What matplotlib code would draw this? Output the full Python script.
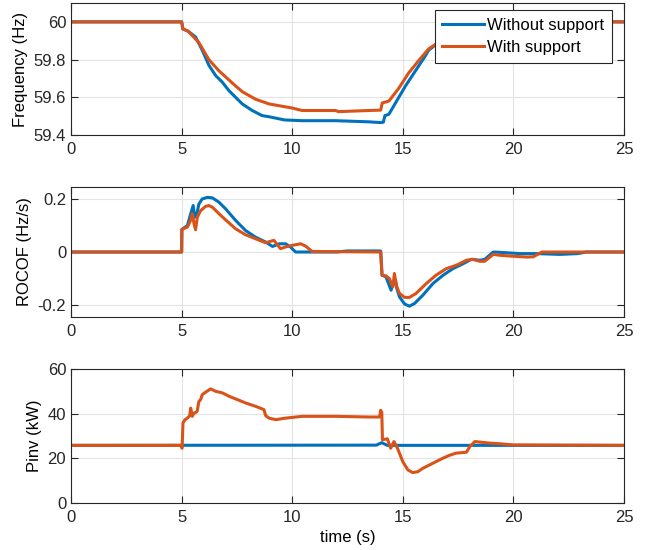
import matplotlib
matplotlib.use("Agg")
import matplotlib.pyplot as plt

plt.rcParams['font.family'] = ['Liberation Sans', 'DejaVu Sans']

BLUE = '#0072BD'
ORANGE = '#D95319'

# frequency (Hz)
f_t_without = [0, 5.0, 5.05, 5.3, 5.63, 5.93, 6.23, 6.54, 6.84, 7.14, 7.44, 7.74, 8.19, 8.64, 8.95,
               9.65, 10.45, 11.96, 13.46, 14.0, 14.12, 14.19, 14.37, 14.82, 15.12, 15.57, 16.02,
               16.17, 16.6, 17.0, 17.5, 18.0, 18.5, 25]
f_without = [60, 60, 59.963, 59.95, 59.92, 59.85, 59.77, 59.715, 59.68, 59.635, 59.60, 59.565,
             59.53, 59.503, 59.497, 59.48, 59.476, 59.476, 59.47, 59.466, 59.468, 59.503, 59.51,
             59.60, 59.66, 59.74, 59.82, 59.85, 59.89, 59.93, 59.965, 59.99, 60.0, 60.0]
f_t_with = [0, 5.0, 5.06, 5.3, 5.78, 6.23, 6.69, 7.44, 7.74, 8.34, 8.95, 10.0, 10.45, 11.96, 12.1,
            13.46, 14.0, 14.07, 14.37, 14.8, 15.27, 15.72, 16.17, 16.6, 17.0, 17.5, 18.0, 18.5, 25]
f_with = [60, 60, 59.963, 59.95, 59.89, 59.80, 59.74, 59.66, 59.63, 59.59, 59.565, 59.543, 59.53,
          59.53, 59.524, 59.53, 59.532, 59.57, 59.58, 59.645, 59.73, 59.795, 59.857, 59.89, 59.93,
          59.965, 59.99, 60.0, 60.0]

# ROCOF (Hz/s)
r_t_without = [0, 5.0, 5.01, 5.26, 5.41, 5.52, 5.59, 5.67, 5.78, 5.93, 6.16, 6.39, 6.69, 6.99, 7.44,
               7.89, 8.34, 8.8, 9.11, 9.41, 9.7, 9.92, 10.15, 12.0, 12.5, 14.0, 14.06, 14.24, 14.47,
               14.55, 14.67, 14.73, 14.85, 15.08, 15.3, 15.53, 15.91, 16.36, 16.82, 17.27, 17.73,
               18.1, 18.48, 18.7, 19.09, 19.55, 20.3, 21.06, 22.1, 22.9, 23.3, 25]
r_without = [0, 0, 0.085, 0.10, 0.144, 0.175, 0.131, 0.1375, 0.181, 0.20, 0.206, 0.204, 0.1875,
             0.1625, 0.119, 0.081, 0.056, 0.0375, 0.021, 0.031, 0.031, 0.019, 0.0, 0.0, 0.004, 0.004,
             -0.087, -0.094, -0.144, -0.119, -0.105, -0.1375, -0.169, -0.196, -0.204, -0.194,
             -0.1625, -0.119, -0.0875, -0.0625, -0.044, -0.0275, -0.031, -0.028, 0.0, -0.002,
             -0.006, -0.006, -0.009, -0.006, 0.0, 0.0]
r_t_with = [0, 5.0, 5.01, 5.26, 5.41, 5.48, 5.56, 5.63, 5.71, 5.86, 6.08, 6.23, 6.39, 6.69, 6.99,
            7.44, 7.89, 8.34, 8.8, 9.17, 9.47, 9.7, 10.0, 10.38, 10.6, 10.9, 14.0, 14.06, 14.24,
            14.39, 14.55, 14.62, 14.7, 14.85, 15.08, 15.3, 15.6, 16.06, 16.5, 16.97, 17.42, 17.88,
            18.18, 18.48, 18.7, 19.09, 19.4, 20.0, 20.6, 20.9, 21.29, 25]
r_with = [0, 0, 0.085, 0.094, 0.12, 0.144, 0.106, 0.084, 0.131, 0.156, 0.172, 0.175, 0.169, 0.144,
          0.121, 0.0875, 0.065, 0.05, 0.035, 0.044, 0.0125, 0.019, 0.025, 0.031, 0.0225, 0.002, 0.0,
          -0.0875, -0.09, -0.10, -0.131, -0.081, -0.125, -0.156, -0.171, -0.171, -0.156, -0.119,
          -0.0875, -0.0625, -0.05, -0.031, -0.0275, -0.035, -0.035, -0.009, -0.0125, -0.016,
          -0.019, -0.018, 0.0, 0.0]

# inverter power (kW)
p_t_without = [0, 13.8, 14.05, 14.3, 25]
p_without = [25.8, 25.9, 27.0, 25.8, 25.8]
p_t_with = [0, 4.95, 5.02, 5.06, 5.15, 5.26, 5.36, 5.41, 5.48, 5.56, 5.63, 5.7, 5.78, 5.86, 5.93,
            6.08, 6.31, 6.54, 6.84, 7.14, 7.44, 7.89, 8.34, 8.72, 8.8, 8.95, 9.26, 9.7, 10.45,
            11.96, 13.46, 13.95, 14.0, 14.05, 14.08, 14.3, 14.45, 14.6, 14.76, 15.0, 15.23, 15.45,
            15.68, 15.9, 16.2, 16.5, 16.8, 17.1, 17.4, 17.88, 18.03, 18.26, 18.5, 18.94, 19.4,
            20.0, 25]
p_with = [25.8, 25.8, 24.5, 35.8, 37.3, 38.0, 39.0, 42.5, 38.8, 40.3, 40.5, 41, 45.5, 46.3, 48.5,
          49.6, 51.1, 50.0, 49.3, 47.8, 46.6, 44.8, 43.3, 41.8, 39.1, 38.0, 37.3, 38.0, 38.8, 38.8,
          38.5, 38.5, 41.5, 40.5, 28.3, 28.75, 24.5, 27.5, 24.5, 18.5, 14.8, 13.6, 14.0, 15.5,
          17.0, 18.5, 20.0, 21.3, 22.3, 22.75, 25.3, 27.5, 27.25, 26.8, 26.5, 26.0, 25.8]

x_ticks = [0, 5, 10, 15, 20, 25]
f_ticks = [59.4, 59.6, 59.8, 60]
r_ticks = [-0.2, 0, 0.2]
p_ticks = [0, 20, 40, 60]

fig = plt.figure(figsize=(6.52, 5.5), dpi=100)
ax1 = fig.add_axes([0.109, 0.7545, 0.848, 0.24])
ax2 = fig.add_axes([0.109, 0.4236, 0.848, 0.2364])
ax3 = fig.add_axes([0.109, 0.0855, 0.848, 0.2436])

lw = 2.2
ax1.plot(f_t_without, f_without, color=BLUE, lw=lw, label='Without support')
ax1.plot(f_t_with, f_with, color=ORANGE, lw=lw, label='With support')
ax2.plot(r_t_without, r_without, color=BLUE, lw=lw)
ax2.plot(r_t_with, r_with, color=ORANGE, lw=lw)
ax3.plot(p_t_without, p_without, color=BLUE, lw=lw)
ax3.plot(p_t_with, p_with, color=ORANGE, lw=lw)

ax1.set_ylim(59.4, 60.1)
ax1.set_yticks(f_ticks)
ax1.set_yticklabels(['59.4', '59.6', '59.8', '60'])
ax1.set_ylabel('Frequency (Hz)', fontsize=12)

ax2.set_ylim(-0.245, 0.245)
ax2.set_yticks(r_ticks)
ax2.set_yticklabels(['-0.2', '0', '0.2'])
ax2.set_ylabel('ROCOF (Hz/s)', fontsize=12)

ax3.set_ylim(0, 60)
ax3.set_yticks(p_ticks)
ax3.set_ylabel('Pinv (kW)', fontsize=12)
ax3.set_xlabel('time (s)', fontsize=12)

for ax in (ax1, ax2, ax3):
    ax.set_xlim(0, 25)
    ax.set_xticks(x_ticks)
    ax.grid(True, color='#e3e3e3', lw=0.8)
    ax.set_axisbelow(True)
    ax.tick_params(direction='in', top=True, right=True, length=5, width=0.8,
                   labelsize=12, colors='#262626')
    ax.tick_params(axis='x', pad=5)
    for s in ax.spines.values():
        s.set_color('#262626')
        s.set_linewidth(0.8)

leg = ax1.legend(loc='upper right', bbox_to_anchor=(0.978, 0.947), borderaxespad=0,
                 fontsize=12, fancybox=False, framealpha=1, edgecolor='#262626',
                 handlelength=2.5, handletextpad=0.2, borderpad=0.45, labelspacing=0.45)
leg.get_frame().set_linewidth(0.8)

fig.savefig('out.png', dpi=100)
